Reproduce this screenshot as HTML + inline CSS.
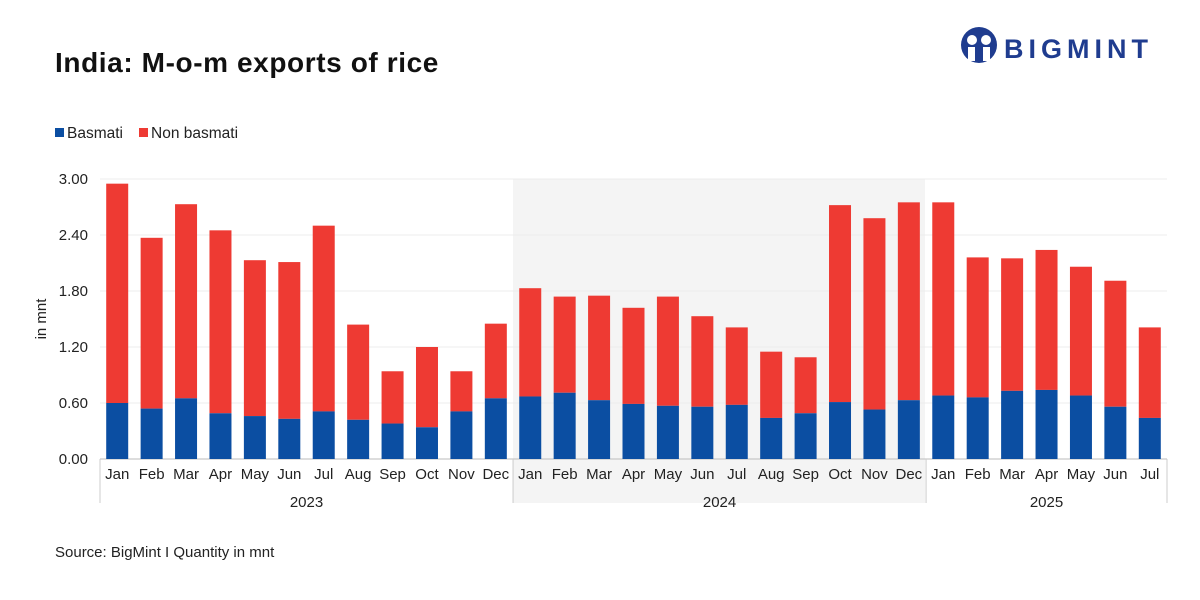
<!DOCTYPE html>
<html><head><meta charset="utf-8"><style>
body{margin:0;background:#fff;font-family:"Liberation Sans",sans-serif;}
#wrap{position:relative;width:1200px;height:600px;overflow:hidden;background:#fff;}
</style></head><body>
<div id="wrap">
<svg id="chart" width="1200" height="600" xmlns="http://www.w3.org/2000/svg">
<text x="55" y="72" font-size="28" font-weight="bold" fill="#111" letter-spacing="0.6">India: M-o-m exports of rice</text>
<g>
<circle cx="979" cy="45" r="18" fill="#1f3c8f"/>
<circle cx="972" cy="40" r="5" fill="#fff"/><circle cx="986" cy="40" r="5" fill="#fff"/>
<rect x="968" y="47" width="7" height="14" fill="#fff"/><rect x="983" y="47" width="7" height="14" fill="#fff"/>
<text x="1004" y="58" font-size="27" font-weight="bold" fill="#1f3c8f" letter-spacing="5">BIGMINT</text>
</g>
<g>
<rect x="55" y="128" width="9" height="9" fill="#0b4ea2"/>
<text x="67" y="138" font-size="15.5" fill="#222">Basmati</text>
<rect x="139" y="128" width="9" height="9" fill="#ee3a33"/>
<text x="151" y="138" font-size="15.5" fill="#222">Non basmati</text>
</g>
<rect x="513" y="179" width="412" height="324" fill="#f4f4f4"/>
<g id="grid"></g><g id="bars"></g><g id="xaxis"></g>
<text transform="translate(46,319) rotate(-90)" text-anchor="middle" font-size="15" fill="#222">in mnt</text>
<text x="55" y="557" font-size="15" fill="#222">Source: BigMint I Quantity in mnt</text>
</svg>
</div>
<script>
const months=["Jan","Feb","Mar","Apr","May","Jun","Jul","Aug","Sep","Oct","Nov","Dec","Jan","Feb","Mar","Apr","May","Jun","Jul","Aug","Sep","Oct","Nov","Dec","Jan","Feb","Mar","Apr","May","Jun","Jul"];
const years=["2023","2024","2025"];
const yearCounts=[12,12,7];
const basmati=[0.60,0.54,0.65,0.49,0.46,0.43,0.51,0.42,0.38,0.34,0.51,0.65,0.67,0.71,0.63,0.59,0.57,0.56,0.58,0.44,0.49,0.61,0.53,0.63,0.68,0.66,0.73,0.74,0.68,0.56,0.44];
const totals=[2.95,2.37,2.73,2.45,2.13,2.11,2.50,1.44,0.94,1.20,0.94,1.45,1.83,1.74,1.75,1.62,1.74,1.53,1.41,1.15,1.09,2.72,2.58,2.75,2.75,2.16,2.15,2.24,2.06,1.91,1.41];
const yTicks=[0,0.6,1.2,1.8,2.4,3.0];
const NS="http://www.w3.org/2000/svg";
const x0=100,x1=1167,y0=459,yTop=179,yMax=3.0;
const step=(x1-x0)/months.length;
const xc=i=>x0+step*(i+0.5);
const y=v=>y0-(v/yMax)*(y0-yTop);
function mk(tag,attrs,parent){const e=document.createElementNS(NS,tag);for(const k in attrs)e.setAttribute(k,attrs[k]);parent.appendChild(e);return e;}
const grid=document.getElementById('grid'),bars=document.getElementById('bars'),xa=document.getElementById('xaxis');
yTicks.forEach(t=>{
 const l=mk('line',{x1:x0,x2:x1,y1:y(t),y2:y(t),stroke:t===0?'#bbb':'#ececec','stroke-width':1},grid);
 
 
 const tx=mk('text',{x:88,y:y(t)+5,'text-anchor':'end','font-size':15,fill:'#222'},grid);
 tx.textContent=t.toFixed(2);
 
 
});
const bw=22;
months.forEach((m,i)=>{
 const nb=mk('rect',{x:xc(i)-bw/2,y:y(totals[i]),width:bw,height:y(basmati[i])-y(totals[i]),fill:'#ee3a33'},bars);
 
 
 const b=mk('rect',{x:xc(i)-bw/2,y:y(basmati[i]),width:bw,height:y0-y(basmati[i]),fill:'#0b4ea2'},bars);
 
 
 const t=mk('text',{x:xc(i),y:479,'text-anchor':'middle','font-size':15,fill:'#222'},xa);
 t.textContent=m;
 
 
});
let s=0;
mk('line',{x1:x0,x2:x0,y1:y0,y2:503,stroke:'#ccc'},xa);
years.forEach((yr,k)=>{
 const a=s,b=s+yearCounts[k];
 const xe=x0+step*b;
 const l=mk('line',{x1:xe,x2:xe,y1:y0,y2:503,stroke:'#ccc'},xa);
 
 
 const t=mk('text',{x:(x0+step*a+xe)/2,y:507,'text-anchor':'middle','font-size':15,fill:'#222'},xa);
 t.textContent=yr;
 
 
 s=b;
});
</script>
</body></html>
